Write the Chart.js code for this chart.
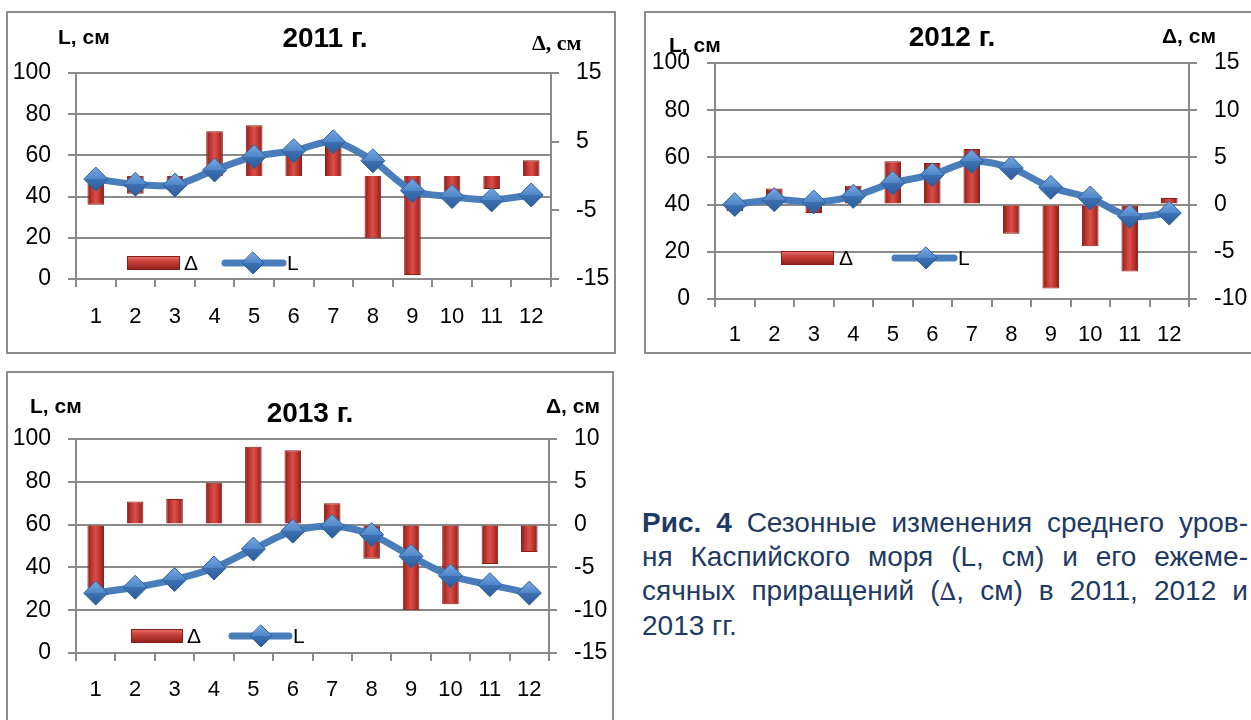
<!DOCTYPE html>
<html><head><meta charset="utf-8">
<script src="https://cdn.jsdelivr.net/npm/chart.js@4.4.1/dist/chart.umd.min.js"></script>
<style>
html,body{margin:0;padding:0;background:#fff;}
body{width:1251px;height:720px;position:relative;overflow:hidden;font-family:"Liberation Sans",Arial,sans-serif;}
.frame{position:absolute;border:2px solid #8c8c8c;box-sizing:border-box;}
canvas{position:absolute;}
.lbl{position:absolute;white-space:nowrap;font-weight:bold;color:#000;line-height:1;font-size:21px;transform:translateY(-50%);}
.ttl{position:absolute;white-space:nowrap;font-weight:bold;font-size:28px;color:#000;line-height:1;transform:translate(-50%,-50%);}
.serif{font-family:"Liberation Serif","Times New Roman",serif;font-size:22px;}
#cap{position:absolute;left:642px;top:506px;width:606px;font-size:28px;line-height:34px;color:#1f3a63;}
#cap .j{text-align:justify;text-align-last:justify;}
#cap .s{font-family:"DejaVu Serif","Liberation Serif",serif;font-size:24px;}
</style></head>
<body>
<div class="frame" style="left:6px;top:11px;width:610px;height:343px;"></div>
<div class="frame" style="left:644px;top:11px;width:620px;height:343px;"></div>
<div class="frame" style="left:6px;top:371px;width:608px;height:360px;"></div>
<canvas id="c1"></canvas>
<canvas id="c2"></canvas>
<canvas id="c3"></canvas>

<div class="lbl" style="left:58px;top:36px;">L, см</div>
<div class="ttl" style="left:325px;top:38px;">2011 г.</div>
<div class="lbl serif" style="left:532px;top:43px;">Δ, см</div>

<div class="lbl" style="left:669px;top:44px;">L, см</div>
<div class="ttl" style="left:952px;top:37px;">2012 г.</div>
<div class="lbl" style="left:1162px;top:35px;">Δ, см</div>

<div class="lbl" style="left:30px;top:405px;">L, см</div>
<div class="ttl" style="left:310px;top:413px;">2013 г.</div>
<div class="lbl" style="left:546px;top:405px;">Δ, см</div>

<div id="cap">
<div class="j"><b>Рис. 4</b> Сезонные изменения среднего уров-</div>
<div class="j">ня Каспийского моря (L, см) и его ежеме-</div>
<div class="j">сячных приращений (<span class="s">∆</span>, см) в 2011, 2012 и</div>
<div>2013 гг.</div>
</div>

<script>
const months = ['1','2','3','4','5','6','7','8','9','10','11','12'];
const L2011 = [48.5,46,45.6,52.9,59.4,62.3,66.6,57.4,42.9,40,38.4,40.8];
const D2011 = [-4.2,-2.6,-1.5,6.5,7.4,3.8,5,-9.1,-14.4,-2.3,-1.9,2.3];
const L2012 = [40,42.1,41.1,43.5,49.2,52.7,58.3,55.5,47.3,42.8,35,36.4];
const D2012 = [-0.7,1.7,-0.9,2.0,4.6,4.4,5.9,-3.1,-8.9,-4.4,-7.1,0.7];
const L2013 = [28,30.7,34.3,39.7,48.6,56.9,59.2,55.3,45.2,36.1,31.9,28];
const D2013 = [-8,2.7,3.0,4.9,9.1,8.7,2.5,-4.0,-10.0,-9.3,-4.6,-3.2];
const lTicks = [0,20,40,60,80,100];
const dTicks2011 = [-15,-5,5,15];
const dTicks2012 = [-10,-5,0,5,10,15];
const dTicks2013 = [-15,-10,-5,0,5,10];
const seriesNames = ['Δ','L'];

const GRID = '#8a8a8a';
const FONT = '"Liberation Sans", Arial, sans-serif';
const BAR_PCT = 0.42;

function barFill(ctx){
  const chart = ctx.chart;
  const xs = chart.scales.x;
  if (ctx.type !== 'data' || !xs) return '#c0504d';
  const cx = xs.getPixelForValue(ctx.dataIndex);
  const w = xs.width / months.length * BAR_PCT;
  if (!isFinite(cx) || !isFinite(w)) return '#c0504d';
  const g = chart.ctx.createLinearGradient(cx - w/2, 0, cx + w/2, 0);
  g.addColorStop(0, '#8c1d19');
  g.addColorStop(0.3, '#c53a34');
  g.addColorStop(0.5, '#d8504a');
  g.addColorStop(0.7, '#c53a34');
  g.addColorStop(1, '#8c1d19');
  return g;
}
function ptFill(ctx){
  const chart = ctx.chart;
  const ys = chart.scales.y;
  if (ctx.type !== 'data' || !ys) return '#4f81bd';
  const y = ys.getPixelForValue(ctx.raw);
  if (!isFinite(y)) return '#4f81bd';
  const r = 12;
  const g = chart.ctx.createLinearGradient(0, y - r, 0, y + r);
  g.addColorStop(0, '#7aa9e0');
  g.addColorStop(0.5, '#4f86c8');
  g.addColorStop(0.5, '#3d71b3');
  g.addColorStop(1, '#2d5c99');
  return g;
}
function drawDiamond(c, x, y, r){
  const g = c.createLinearGradient(0, y - r, 0, y + r);
  g.addColorStop(0, '#7aa9e0');
  g.addColorStop(0.5, '#4f86c8');
  g.addColorStop(0.5, '#3d71b3');
  g.addColorStop(1, '#2d5c99');
  c.beginPath();
  c.moveTo(x, y - r); c.lineTo(x + r, y); c.lineTo(x, y + r); c.lineTo(x - r, y); c.closePath();
  c.fillStyle = g; c.fill();
  c.strokeStyle = '#2f5f9c'; c.lineWidth = 1; c.stroke();
}
function legendPlugin(cfg){
  return {
    id: 'inlegend',
    afterDraw(chart){
      const c = chart.ctx, g = cfg.leg, ox = cfg.cx, oy = cfg.cy;
      const y = g.y - oy;
      c.save();
      const h = 14, x0 = g.b0 - ox, x1 = g.b1 - ox;
      const gr = c.createLinearGradient(0, y - h/2, 0, y + h/2);
      gr.addColorStop(0, '#ea7a74'); gr.addColorStop(0.35, '#cc433c'); gr.addColorStop(1, '#8c1d19');
      c.fillStyle = gr; c.fillRect(x0, y - h/2, x1 - x0, h);
      c.strokeStyle = '#8a1d19'; c.lineWidth = 1; c.strokeRect(x0 + 0.5, y - h/2 + 0.5, x1 - x0 - 1, h - 1);
      c.fillStyle = '#000'; c.font = '21px ' + FONT; c.textBaseline = 'middle'; c.textAlign = 'left';
      c.fillText(seriesNames[0], g.dx - ox, y + 1);
      c.strokeStyle = '#4a7ebb'; c.lineWidth = 7; c.lineCap = 'round';
      c.beginPath(); c.moveTo(g.l0 - ox, y); c.lineTo(g.l1 - ox, y); c.stroke();
      drawDiamond(c, g.dm - ox, y, 11);
      c.fillStyle = '#000';
      c.fillText(seriesNames[1], g.lx - ox, y + 1);
      c.restore();
    }
  };
}

function makeChart(id, cfg){
  const cv = document.getElementById(id);
  cv.width = cfg.cw; cv.height = cfg.ch;
  cv.style.left = cfg.cx + 'px'; cv.style.top = cfg.cy + 'px';
  cv.style.width = cfg.cw + 'px'; cv.style.height = cfg.ch + 'px';
  const tickFont = {family: FONT, size: 23};
  new Chart(cv, {
    data: {
      labels: months,
      datasets: [
        {type: 'line', label: seriesNames[1], data: cfg.lv, yAxisID: 'y',
         borderColor: '#4a7ebb', borderWidth: 7, tension: 0.3,
         borderCapStyle: 'round', borderJoinStyle: 'round',
         pointStyle: 'rectRot', pointRadius: 12, pointHoverRadius: 12,
         pointBackgroundColor: ptFill, pointBorderColor: '#2f5f9c', pointBorderWidth: 1,
         order: 0, clip: false},
        {type: 'bar', label: seriesNames[0], data: cfg.dv, yAxisID: 'y1',
         backgroundColor: barFill, borderColor: '#8a1d19', borderWidth: 1,
         barPercentage: BAR_PCT, categoryPercentage: 1, order: 1}
      ]
    },
    options: {
      responsive: false, maintainAspectRatio: false, animation: false, devicePixelRatio: 1,
      layout: {padding: {top: cfg.PT - cfg.cy, left: 0, right: 0, bottom: 0}},
      plugins: {legend: {display: false}, tooltip: {enabled: false}, title: {display: false}},
      scales: {
        x: {type: 'category', offset: true,
            grid: {offset: true, drawOnChartArea: false, drawTicks: true, tickLength: 8, color: GRID, lineWidth: 2},
            border: {display: true, color: GRID, width: 2},
            ticks: {font: {family: FONT, size: 22}, color: '#000', padding: cfg.xpad, maxRotation: 0, autoSkip: false},
            afterFit(s){ s.height = cfg.cy + cfg.ch - cfg.PB; }},
        y: {position: 'left', min: 0, max: 100,
            afterBuildTicks(s){ s.ticks = lTicks.map(v => ({value: v})); },
            grid: {color: GRID, lineWidth: 2, tickLength: 8},
            border: {display: true, color: GRID, width: 2},
            ticks: {font: tickFont, color: '#000', padding: 17},
            afterFit(s){ s.width = cfg.PL - cfg.cx; }},
        y1: {position: 'right', min: cfg.dt[0], max: cfg.dt[cfg.dt.length - 1],
            afterBuildTicks(s){ s.ticks = cfg.dt.map(v => ({value: v})); },
            grid: {drawOnChartArea: false, color: GRID, lineWidth: 2, tickLength: 8},
            border: {display: true, color: GRID, width: 2},
            ticks: {font: tickFont, color: '#000', padding: 17},
            afterFit(s){ s.width = cfg.cx + cfg.cw - cfg.PR; }}
      }
    },
    plugins: [legendPlugin(cfg)]
  });
}

makeChart('c1', {cx: 6, cy: 11, cw: 610, ch: 343, PL: 76, PR: 551, PT: 73, PB: 279, xpad: 17,
  lv: L2011, dv: D2011, dt: dTicks2011,
  leg: {y: 263, b0: 127, b1: 180, dx: 184, l0: 225, l1: 283, dm: 253, lx: 287}});
makeChart('c2', {cx: 644, cy: 11, cw: 607, ch: 343, PL: 715, PR: 1189, PT: 63, PB: 299, xpad: 15,
  lv: L2012, dv: D2012, dt: dTicks2012,
  leg: {y: 258, b0: 781, b1: 834, dx: 839, l0: 895, l1: 954, dm: 926, lx: 958}});
makeChart('c3', {cx: 6, cy: 371, cw: 608, ch: 349, PL: 76, PR: 549, PT: 439, PB: 653, xpad: 16,
  lv: L2013, dv: D2013, dt: dTicks2013,
  leg: {y: 636, b0: 131, b1: 183, dx: 187, l0: 232, l1: 289, dm: 261, lx: 293}});
</script>
</body></html>
